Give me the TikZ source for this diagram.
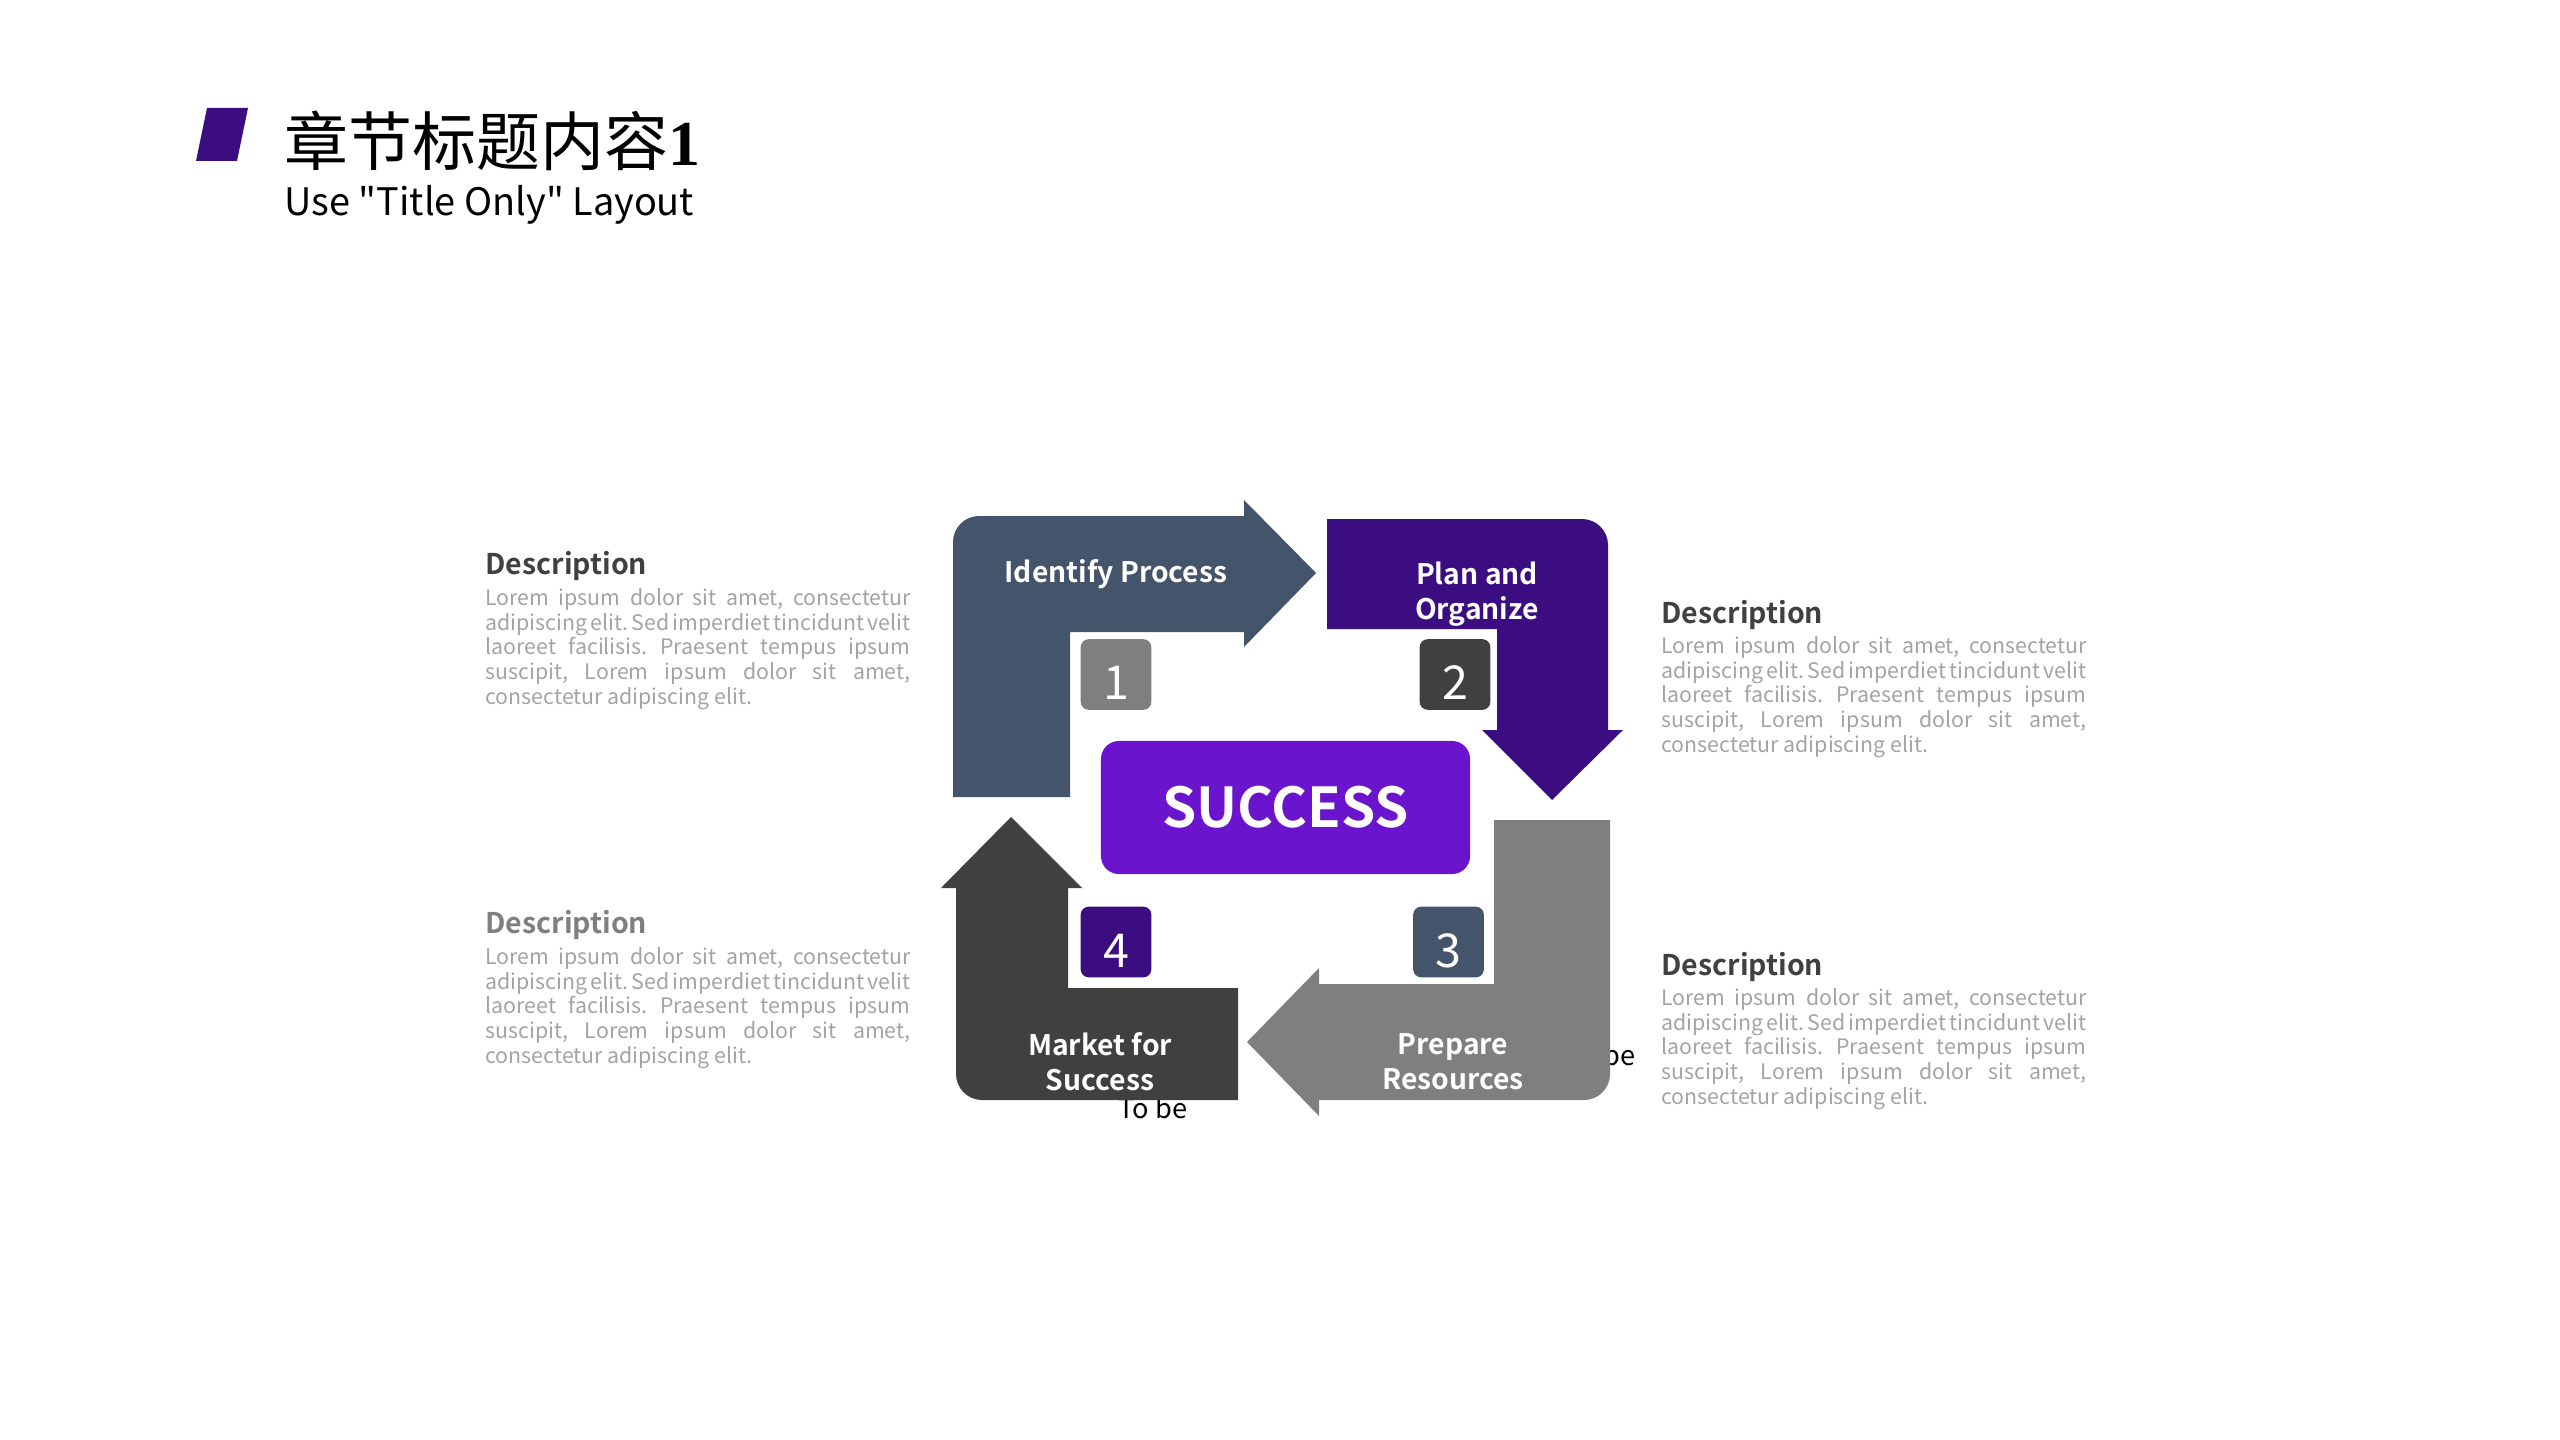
\documentclass[tikz,border=0pt]{standalone}
\usepackage{fontspec}
\setmainfont{Noto Sans CJK SC}[BoldFont={Noto Sans CJK SC Bold}]
\newfontfamily\serifone{Liberation Serif}
\usepackage{xcolor}
\definecolor{slate}{HTML}{44546A}
\definecolor{deeppurple}{HTML}{3C0D80}
\definecolor{brightpurple}{HTML}{6A14CD}
\definecolor{midgray}{HTML}{7F7F7F}
\definecolor{darkgray}{HTML}{404040}
\definecolor{bodygray}{HTML}{A3A3A3}
\usepackage{tikz}
\frenchspacing

\newcommand{\loremlines}{%
\makebox[159.4pt][s]{Lorem ipsum dolor sit amet, consectetur}\\
\makebox[159.4pt][s]{adipiscing elit. Sed imperdiet tincidunt velit}\\
\makebox[159.4pt][s]{laoreet facilisis. Praesent tempus ipsum}\\
\makebox[159.4pt][s]{suscipit, Lorem ipsum dolor sit amet,}\\
consectetur adipiscing elit.}

\begin{document}
\begin{tikzpicture}
[x=0.375pt,y=0.375pt,
head/.style={inner sep=0pt,anchor=base west,font=\bfseries\fontsize{10.7}{13}\selectfont},
body/.style={inner sep=0pt,anchor=base west,align=left,text=bodygray,font=\fontsize{8}{9.19}\selectfont},
numb/.style={rectangle,rounded corners=3pt,inner sep=0pt,minimum size=26.5pt,text height=19.1pt,text depth=0pt,text=white,font=\fontsize{17.5}{18}\selectfont},
lab/.style={align=center,text=white,inner sep=0pt,font=\bfseries\fontsize{10.6}{13.1}\selectfont},
tobe/.style={inner sep=0pt,font=\fontsize{10.2}{12}\selectfont}]
\useasboundingbox (0,0) rectangle (2560,-1440);

% title
\fill [deeppurple] (207,-108) -- (248,-108) -- (237,-161) -- (196,-161) -- cycle;
\node at (284,-166) [inner sep=0pt,anchor=base west] (title)
  {\fontsize{24}{26}\selectfont 章节标题内容{\serifone\bfseries 1}};
\node at (284,-216) [inner sep=0pt,anchor=base west] (subtitle)
  {\fontsize{14.2}{16}\selectfont Use \textquotedbl Title Only\textquotedbl{} Layout};

% stray text boxes under the arrows
\node at (1118,-1118) [tobe,anchor=base west] (tobea) {To be};
\node at (1636,-1065) [tobe,anchor=base east] (tobeb) {To be};

% four arrows
\fill [slate] (953,-797) -- (953,-542) arc[start angle=180,end angle=90,radius=26]
  -- (1244,-516) -- (1244,-500) -- (1316,-573) -- (1244,-647) -- (1244,-632)
  -- (1070,-632) -- (1070,-797) -- cycle;
\fill [deeppurple] (1327,-519) -- (1582,-519) arc[start angle=90,end angle=0,radius=26]
  -- (1608,-730) -- (1623,-730) -- (1552,-800) -- (1482,-730) -- (1497,-730)
  -- (1497,-629) -- (1327,-629) -- cycle;
\fill [midgray] (1494,-820) -- (1610,-820) -- (1610,-1074) arc[start angle=0,end angle=-90,radius=26]
  -- (1319,-1100) -- (1319,-1116) -- (1247,-1042) -- (1319,-968) -- (1319,-984)
  -- (1494,-984) -- cycle;
\fill [darkgray] (1011,-817) -- (1082,-888) -- (1068,-888) -- (1068,-988)
  -- (1238,-988) -- (1238,-1100) -- (982,-1100) arc[start angle=270,end angle=180,radius=26]
  -- (956,-888) -- (941,-888) -- cycle;

\node at (1116,-574) [lab] (identify) {Identify Process};
\node at (1477,-594) [lab] (plan)     {Plan and\\Organize};
\node at (1453,-1062) [lab] (prepare) {Prepare\\Resources};
\node at (1100,-1062) [lab] (market)  {Market for\\Success};

\node at (1116,-674.5) [numb,fill=midgray]    (one)   {1};
\node at (1455,-674.5) [numb,fill=darkgray]   (two)   {2};
\node at (1448.5,-942) [numb,fill=slate]      (three) {3};
\node at (1116,-942)   [numb,fill=deeppurple] (four)  {4};

\node at (1285.5,-807.5) [rectangle,rounded corners=6.75pt,fill=brightpurple,
  minimum width=138.4pt,minimum height=49.9pt,text=white,
  font=\bfseries\fontsize{20.6}{24}\selectfont] (success) {SUCCESS};

% descriptions
\node at (485,-574)  [head,text=darkgray] (desca) {Description};
\node at (485,-704)  [body] (bodya) {\loremlines};
\node at (1661,-623) [head,text=darkgray] (descb) {Description};
\node at (1661,-752) [body] (bodyb) {\loremlines};
\node at (485,-933)  [head,text=midgray]  (descc) {Description};
\node at (485,-1063) [body] (bodyc) {\loremlines};
\node at (1661,-975) [head,text=darkgray] (descd) {Description};
\node at (1661,-1104) [body] (bodyd) {\loremlines};
\end{tikzpicture}
\end{document}
